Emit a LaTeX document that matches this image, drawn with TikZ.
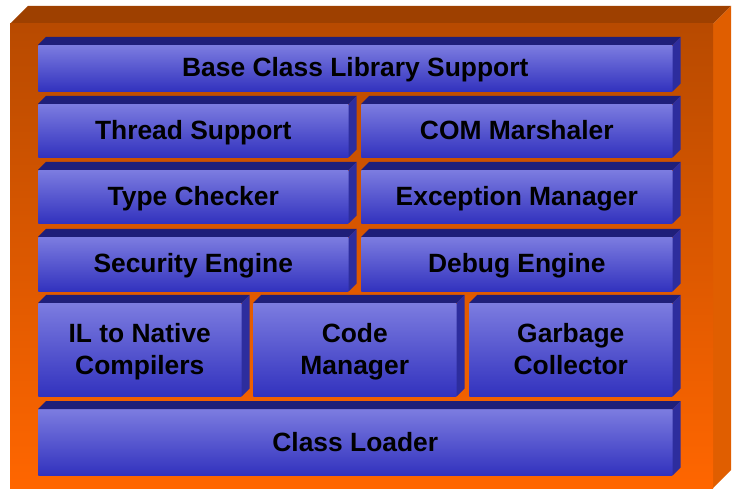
\documentclass[tikz,border=0pt]{standalone}
\usepackage{fontspec}
\setmainfont{Liberation Sans}
\definecolor{kastenoben}{HTML}{9E4000}
\definecolor{kastenseite}{HTML}{E05E00}
\definecolor{kastendunkel}{HTML}{B84A00}
\definecolor{kastenhell}{HTML}{FF6600}
\definecolor{blauhell}{HTML}{7C7CE0}
\definecolor{blaudunkel}{HTML}{3232BE}
\definecolor{blauoben}{HTML}{1F1F7A}
\definecolor{blauseite}{HTML}{2D2D9E}
\tikzstyle{baustein}=[inner sep=0pt, anchor=north west, align=center, top color=blauhell, bottom color=blaudunkel, font=\bfseries\fontsize{19.8}{23.5}\selectfont, text depth=0pt]
\tikzstyle{einzeilig}=[text height=13.1pt]
\tikzstyle{zweizeilig}=[text height=36.75pt]
\tikzstyle{tiefe}=[shift={(8,-8)}]

\begin{document}
\begin{tikzpicture}[x=0.75pt,y=-0.75pt]
			% Rahmen festlegen
			\useasboundingbox (0,0) rectangle (738,491);
			% Kasten zeichnen
			\fill[kastenoben] (10,24) -- (28,6) -- (731,6) -- (713,24) -- cycle;
			\fill[kastenseite] (713,24) -- (731,6) -- (731,470) -- (713,488) -- cycle;
			\shade[top color=kastendunkel, bottom color=kastenhell] (10,24) rectangle (713,488);
			% Bausteine zeichnen
			\foreach \kurz/\xa/\ya/\xb/\yb/\zeilen/\beschr in {
				bcl/38/45/672/91/einzeilig/{Base Class Library Support},
				thread/38/104/348/157/einzeilig/{Thread Support},
				com/361/104/672/157/einzeilig/{COM Marshaler},
				type/38/170/348/223/einzeilig/{Type Checker},
				exc/361/170/672/223/einzeilig/{Exception Manager},
				sec/38/237/348/291/einzeilig/{Security Engine},
				dbg/361/237/672/291/einzeilig/{Debug Engine},
				il/38/303/241/396/zweizeilig/{IL to Native\\Compilers},
				code/253/303/456/396/zweizeilig/{Code\\Manager},
				gc/469/303/672/396/zweizeilig/{Garbage\\Collector},
				cl/38/409/672/475/einzeilig/{Class Loader}}
			{
				\node[baustein, \zeilen, minimum width={(\xb-\xa)*0.75pt}, minimum height={(\yb-\ya)*0.75pt}] (\kurz) at (\xa,\ya) {\beschr};
				\fill[blauoben] (\kurz.north west) -- ++(8,-8) -- ([tiefe]\kurz.north east) -- (\kurz.north east) -- cycle;
				\fill[blauseite] (\kurz.north east) -- ([tiefe]\kurz.north east) -- ([tiefe]\kurz.south east) -- (\kurz.south east) -- cycle;
			}
		\end{tikzpicture}
\end{document}
